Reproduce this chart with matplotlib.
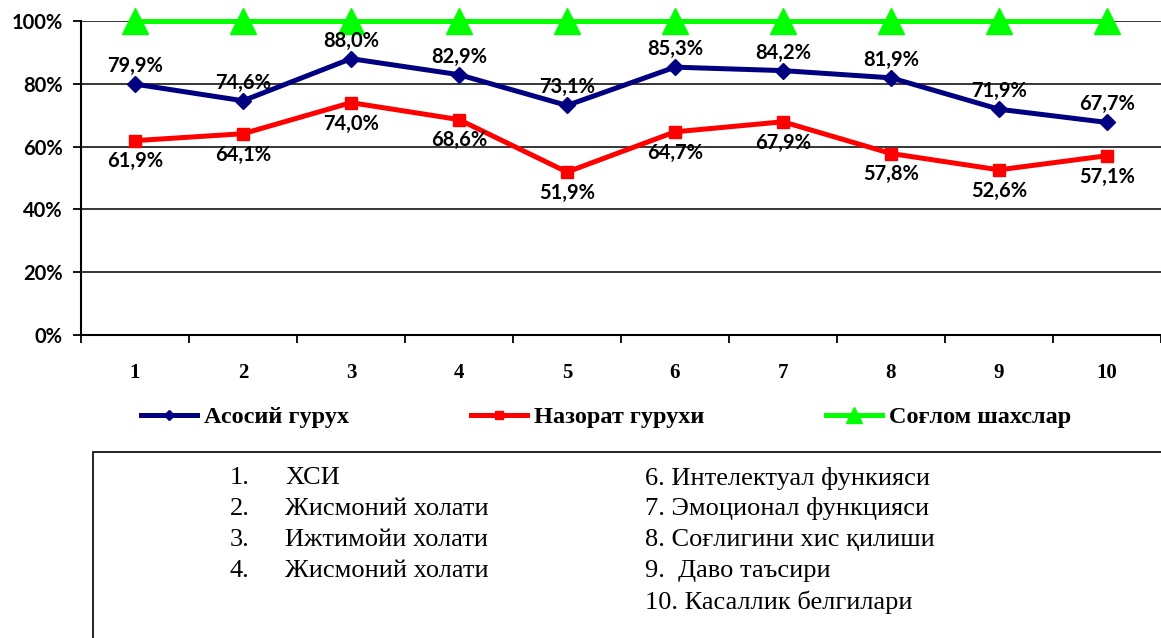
import matplotlib
matplotlib.use("Agg")
import matplotlib.pyplot as plt
from matplotlib.patches import Rectangle
from matplotlib.ticker import FixedLocator

# chart data
categories = [1, 2, 3, 4, 5, 6, 7, 8, 9, 10]
asosiy = [79.9, 74.6, 88.0, 82.9, 73.1, 85.3, 84.2, 81.9, 71.9, 67.7]
nazorat = [61.9, 64.1, 74.0, 68.6, 51.9, 64.7, 67.9, 57.8, 52.6, 57.1]
soglom = [100, 100, 100, 100, 100, 100, 100, 100, 100, 100]
series_names = ["Асосий гурух", "Назорат гурухи", "Соғлом шахслар"]
y_ticks = [0, 20, 40, 60, 80, 100]

notes_left_num = ["1.", "2.", "3.", "4."]
notes_left = ["ХСИ", "Жисмоний холати", "Ижтимойи холати", "Жисмоний холати"]
notes_right = ["6. Интелектуал функияси", "7. Эмоционал функцияси", "8. Соғлигини хис қилиши",
               "9.  Даво таъсири", "10. Касаллик белгилари"]

SANS = ["Lato", "DejaVu Sans"]
SERIF = ["Liberation Serif", "DejaVu Serif"]

fig = plt.figure(figsize=(11.61, 6.38), dpi=100)
ax = fig.add_axes([81 / 1161, 1 - 335 / 638, 1 - 81 / 1161, (335 - 21) / 638])

ax.plot(categories, asosiy, color="#000080", lw=3.6, marker="D", ms=8, label=series_names[0], zorder=4)
ax.plot(categories, nazorat, color="#ff0000", lw=3.6, marker="s", ms=8.5, label=series_names[1], zorder=4)
ax.plot(categories, soglom, color="#00ff00", lw=3.6, marker="^", ms=19, label=series_names[2],
        zorder=5, clip_on=False)

def pct(v):
    return f"{v:.1f}%".replace(".", ",")

for x, v in zip(categories, asosiy):
    ax.annotate(pct(v), (x, v), xytext=(0, 13), textcoords="offset points", ha="center", va="center",
                fontsize=14.5, fontweight="bold", family=SANS, zorder=6)
for x, v in zip(categories, nazorat):
    ax.annotate(pct(v), (x, v), xytext=(0, -15), textcoords="offset points", ha="center", va="center",
                fontsize=14.5, fontweight="bold", family=SANS, zorder=6)

ax.set_xlim(0.5, 10.5)
ax.set_ylim(0, 100)
ax.set_yticks(y_ticks)
ax.set_yticklabels([f"{t}%" for t in y_ticks], fontsize=14.5, fontweight="bold", family=SANS)
ax.set_xticks(categories)
ax.set_xticklabels([str(c) for c in categories], fontsize=15, fontweight="bold", family=SERIF)
ax.xaxis.set_minor_locator(FixedLocator([c + 0.5 for c in [0] + categories]))
ax.tick_params(axis="x", which="major", length=0, pad=20)
ax.tick_params(axis="x", which="minor", length=6, width=1.3, direction="out")
ax.tick_params(axis="y", length=6, width=1.3, pad=7)

for t in y_ticks[1:]:
    ax.axhline(t, color="black", lw=1.1, zorder=1)
for s in ["top", "right"]:
    ax.spines[s].set_visible(False)
for s in ["left", "bottom"]:
    ax.spines[s].set_linewidth(1.5)

fig.legend(loc="center", bbox_to_anchor=(0.522, 1 - 417 / 638), ncol=3, frameon=False,
           prop={"family": SERIF, "weight": "bold", "size": 17.5},
           handlelength=2.3, handletextpad=0.3, columnspacing=5.0, markerscale=0.6)

# notes box
fig.patches.append(Rectangle((93 / 1161, -0.1), 1.0, 1 - 452 / 638 + 0.1, transform=fig.transFigure,
                             fill=False, edgecolor="black", lw=1.2))
for i, (n, t) in enumerate(zip(notes_left_num, notes_left)):
    y = 1 - (478 + 31 * i) / 638
    fig.text(230 / 1161, y, n, fontsize=19, family=SERIF, va="center")
    fig.text(285 / 1161, y, t, fontsize=19, family=SERIF, va="center")
for i, t in enumerate(notes_right):
    fig.text(645 / 1161, 1 - (478 + 31 * i) / 638, t, fontsize=19, family=SERIF, va="center")

fig.savefig("out.png", dpi=100)
